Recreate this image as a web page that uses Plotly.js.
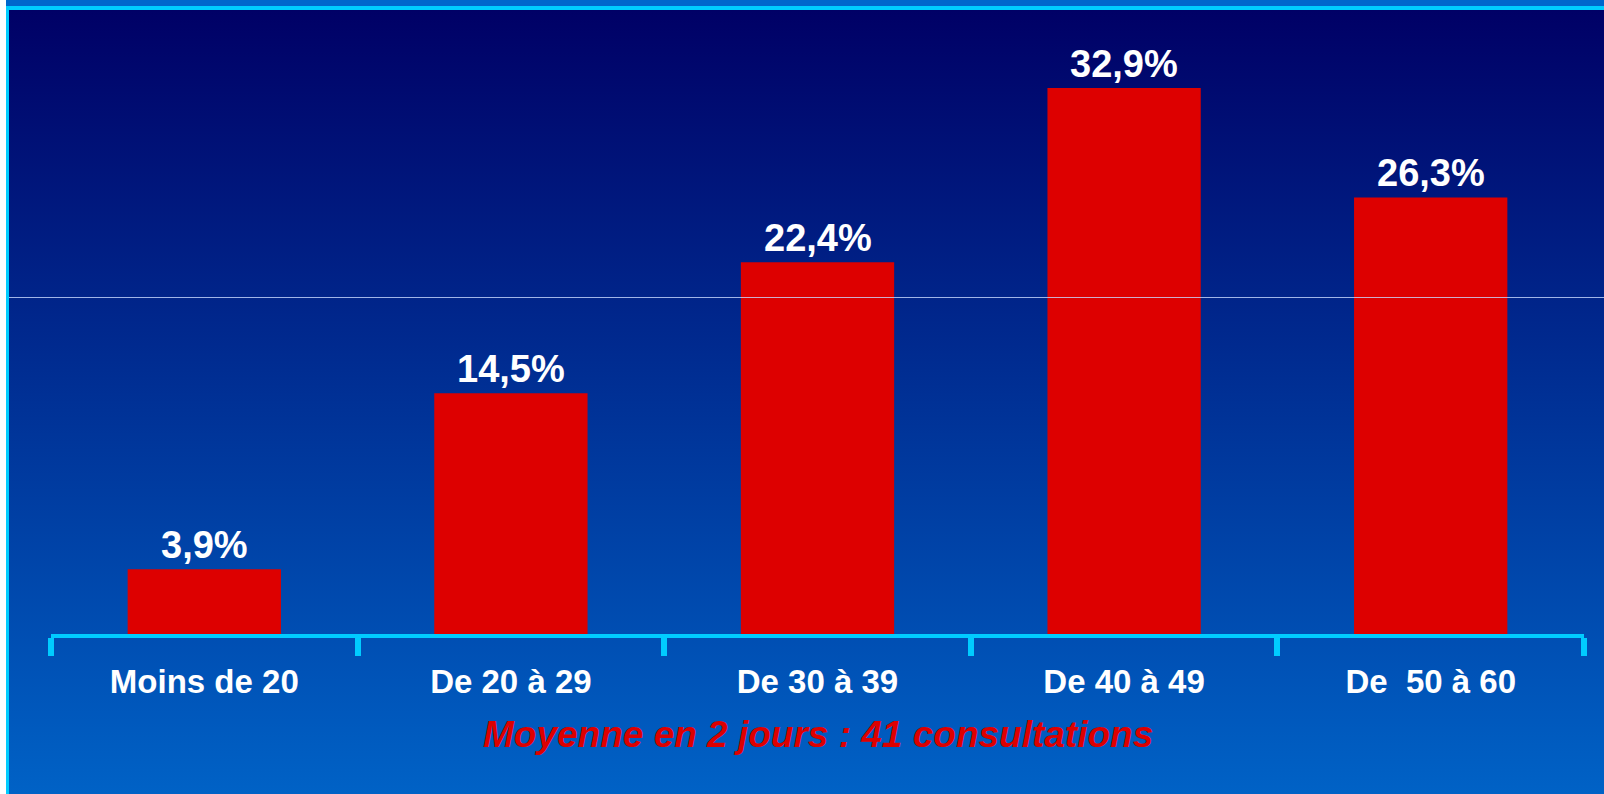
<!DOCTYPE html>
<html>
<head>
<meta charset="utf-8">
<script src="https://cdn.plot.ly/plotly-3.0.1.min.js"></script>
<style>
  html, body { margin: 0; padding: 0; background: #ffffff; }
  #wrap { position: relative; width: 1604px; height: 794px; overflow: hidden; background: #ffffff; }
  .abs { position: absolute; }
  #strip { left: 6px; top: 0; width: 1598px; height: 6px; background: #0066cc; }
  #ctop { left: 6px; top: 6px; width: 1598px; height: 4px; background: #00ccff; }
  #cleft { left: 6px; top: 6px; width: 3px; height: 788px; background: #00ccff; }
  #grad { left: 9px; top: 10px; width: 1595px; height: 784px; background: linear-gradient(to bottom, #000066 0%, #0062c6 100%); }
  #chart { left: 0; top: 0; width: 1604px; height: 794px; }
  #hline { left: 9px; top: 297px; width: 1595px; height: 1px; background: rgba(200, 218, 255, 0.8); z-index: 5; }
</style>
</head>
<body>
<div id="wrap">
  <div id="strip" class="abs"></div>
  <div id="ctop" class="abs"></div>
  <div id="cleft" class="abs"></div>
  <div id="grad" class="abs"></div>
  <div id="chart" class="abs"></div>
  <div id="hline" class="abs"></div>
</div>
<script>
const categories = ["Moins de 20", "De 20 à 29", "De 30 à 39", "De 40 à 49", "De \u00a050 à 60"];
const percentages = [3.9, 14.5, 22.4, 32.9, 26.3];
const footnote = "Moyenne en 2 jours : 41 consultations";

const fontFamily = "'Liberation Sans', Arial, Helvetica, sans-serif";

const labelAnnotations = categories.map((c, i) => ({
  x: c,
  y: percentages[i],
  xref: "x",
  yref: "y",
  text: percentages[i].toFixed(1).replace(".", ",") + "%",
  showarrow: false,
  yanchor: "bottom",
  xanchor: "center",
  yshift: 1,
  font: { family: fontFamily, size: 38, color: "#ffffff", weight: "bold" }
}));

const footAnnotation = {
  xref: "paper",
  yref: "paper",
  x: 0.5,
  y: -0.168,
  yanchor: "middle",
  xanchor: "center",
  showarrow: false,
  text: footnote,
  font: { family: fontFamily, size: 37, color: "#dd0000", weight: "bold", style: "italic" }
};

const trace = {
  type: "bar",
  x: categories,
  y: percentages,
  width: 0.5,
  marker: { color: "#dd0000", line: { width: 0 } },
  hoverinfo: "skip"
};

const layout = {
  width: 1604,
  height: 794,
  margin: { l: 51, r: 20, t: 34, b: 160 },
  paper_bgcolor: "rgba(0,0,0,0)",
  plot_bgcolor: "rgba(0,0,0,0)",
  showlegend: false,
  bargap: 0.5,
  xaxis: {
    type: "category",
    range: [-0.5, 4.5],
    showline: true,
    linecolor: "#00ccff",
    linewidth: 4,
    ticks: "outside",
    tickson: "boundaries",
    ticklen: 18,
    tickwidth: 6,
    tickcolor: "#00ccff",
    ticklabelstandoff: 15,
    showgrid: false,
    zeroline: false,
    tickfont: { family: fontFamily, size: 33, color: "#ffffff", weight: "bold" },
    fixedrange: true
  },
  yaxis: {
    range: [0, 36.15],
    visible: false,
    showgrid: false,
    zeroline: false,
    fixedrange: true
  },
  annotations: labelAnnotations.concat([footAnnotation])
};

Plotly.newPlot("chart", [trace], layout, { displayModeBar: false, staticPlot: true });
</script>
</body>
</html>
